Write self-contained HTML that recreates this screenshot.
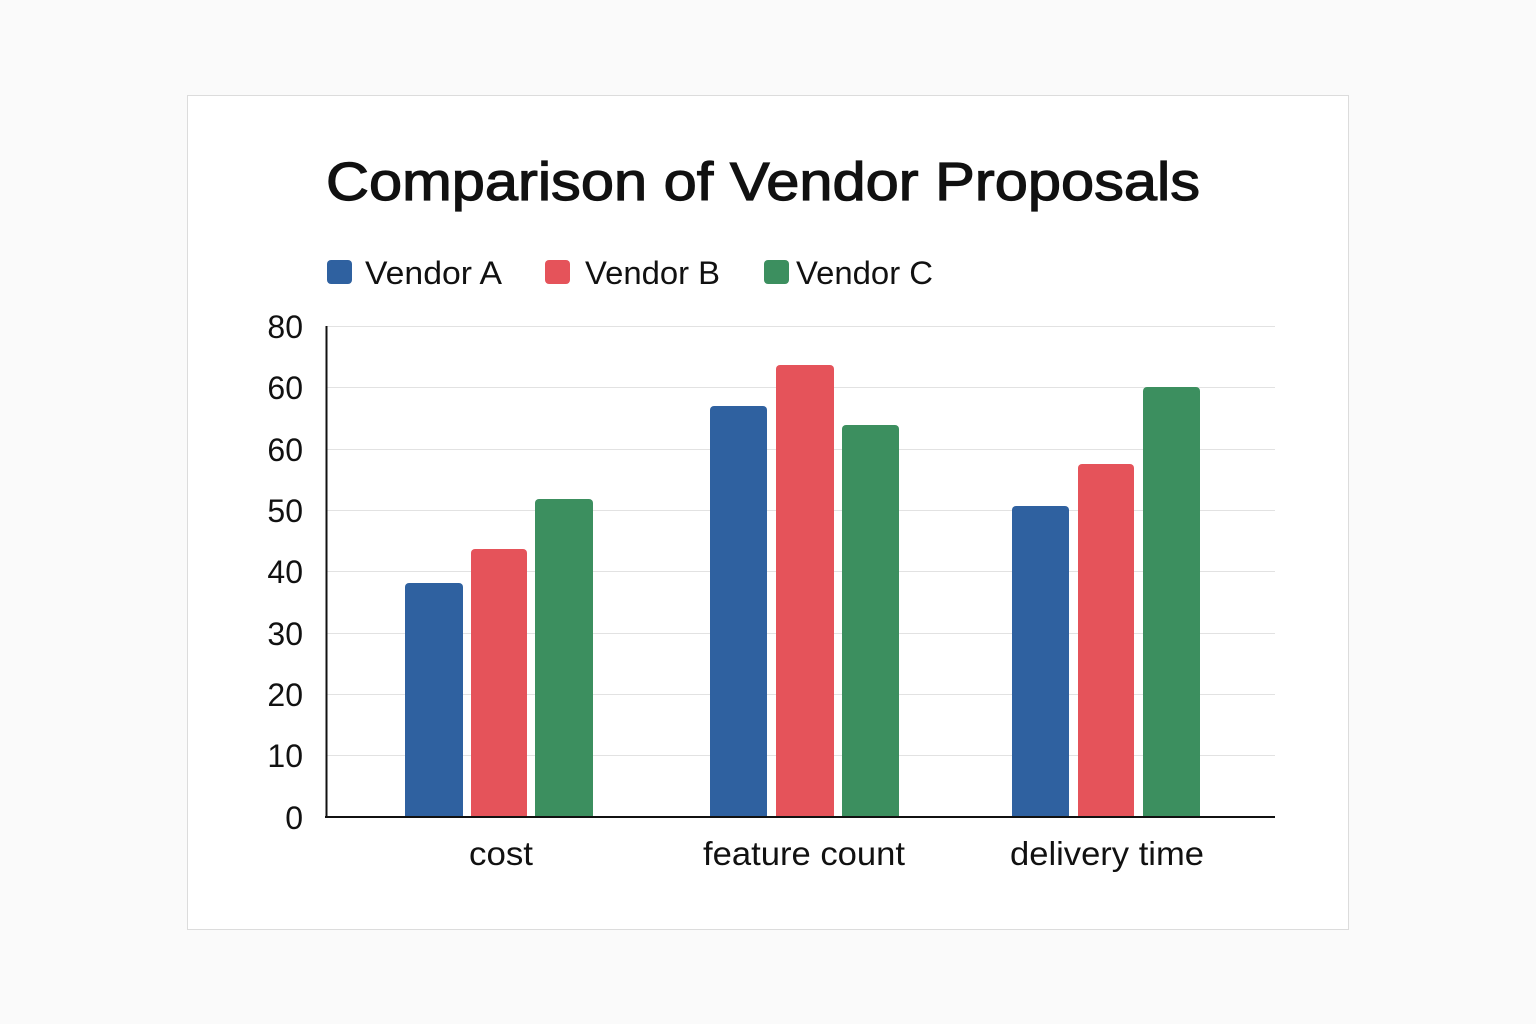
<!DOCTYPE html>
<html><head><meta charset="utf-8"><style>
html,body{margin:0;padding:0;background:#fafafa;}
svg{display:block;}
text{font-family:"Liberation Sans",sans-serif;fill:#111;}
</style></head><body>
<svg width="1536" height="1024" viewBox="0 0 1536 1024" xmlns="http://www.w3.org/2000/svg">
<rect x="0" y="0" width="1536" height="1024" fill="#fafafa"/>
<rect x="187.5" y="95.5" width="1161" height="834" fill="#fff" stroke="#dcdcdc" stroke-width="1"/>
<text x="326" y="200" font-size="54" stroke="#111" stroke-width="1.2" textLength="874" lengthAdjust="spacingAndGlyphs">Comparison of Vendor Proposals</text>
<rect x="327" y="260" width="25" height="24" rx="4" fill="#2f61a0"/>
<text x="365" y="284" font-size="32" textLength="137" lengthAdjust="spacingAndGlyphs">Vendor A</text>
<rect x="545" y="260" width="25" height="24" rx="4" fill="#e5535a"/>
<text x="585" y="284" font-size="32" textLength="135" lengthAdjust="spacingAndGlyphs">Vendor B</text>
<rect x="764" y="260" width="25" height="24" rx="4" fill="#3c8f5f"/>
<text x="796" y="284" font-size="32" textLength="137" lengthAdjust="spacingAndGlyphs">Vendor C</text>
<g stroke="#e2e2e2" stroke-width="1">
<line x1="326" y1="326.5" x2="1275" y2="326.5"/>
<line x1="326" y1="387.5" x2="1275" y2="387.5"/>
<line x1="326" y1="449.5" x2="1275" y2="449.5"/>
<line x1="326" y1="510.5" x2="1275" y2="510.5"/>
<line x1="326" y1="571.5" x2="1275" y2="571.5"/>
<line x1="326" y1="633.5" x2="1275" y2="633.5"/>
<line x1="326" y1="694.5" x2="1275" y2="694.5"/>
<line x1="326" y1="755.5" x2="1275" y2="755.5"/>
</g>
<g font-size="32" text-anchor="end">
<text x="303" y="338">80</text>
<text x="303" y="399">60</text>
<text x="303" y="461">60</text>
<text x="303" y="522">50</text>
<text x="303" y="583">40</text>
<text x="303" y="645">30</text>
<text x="303" y="706">20</text>
<text x="303" y="767">10</text>
<text x="303" y="829">0</text>
</g>
<path d="M405 817V587a4 4 0 0 1 4-4h50a4 4 0 0 1 4 4V817Z" fill="#2f61a0"/>
<path d="M471 817V553a4 4 0 0 1 4-4h48a4 4 0 0 1 4 4V817Z" fill="#e5535a"/>
<path d="M535 817V503a4 4 0 0 1 4-4h50a4 4 0 0 1 4 4V817Z" fill="#3c8f5f"/>
<path d="M710 817V410a4 4 0 0 1 4-4h49a4 4 0 0 1 4 4V817Z" fill="#2f61a0"/>
<path d="M776 817V369a4 4 0 0 1 4-4h50a4 4 0 0 1 4 4V817Z" fill="#e5535a"/>
<path d="M842 817V429a4 4 0 0 1 4-4h49a4 4 0 0 1 4 4V817Z" fill="#3c8f5f"/>
<path d="M1012 817V510a4 4 0 0 1 4-4h49a4 4 0 0 1 4 4V817Z" fill="#2f61a0"/>
<path d="M1078 817V468a4 4 0 0 1 4-4h48a4 4 0 0 1 4 4V817Z" fill="#e5535a"/>
<path d="M1143 817V391a4 4 0 0 1 4-4h49a4 4 0 0 1 4 4V817Z" fill="#3c8f5f"/>
<line x1="326.5" y1="326" x2="326.5" y2="818" stroke="#111" stroke-width="2"/>
<line x1="325" y1="817" x2="1275" y2="817" stroke="#111" stroke-width="2"/>
<g font-size="33">
<text x="469" y="865" textLength="64" lengthAdjust="spacingAndGlyphs">cost</text>
<text x="703" y="865" textLength="202" lengthAdjust="spacingAndGlyphs">feature count</text>
<text x="1010" y="865" textLength="194" lengthAdjust="spacingAndGlyphs">delivery time</text>
</g>
</svg>
</body></html>
